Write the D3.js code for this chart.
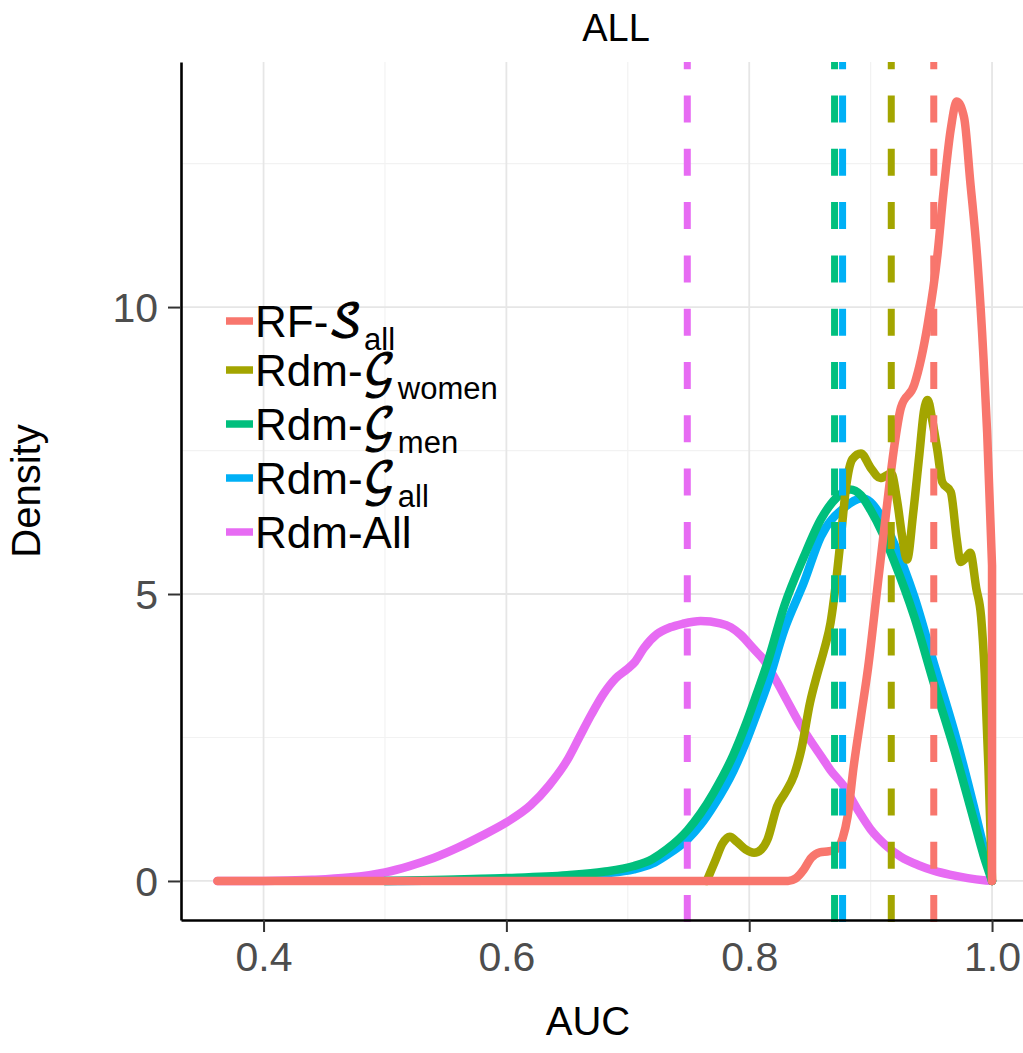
<html>
<head>
    <script src="https://d3js.org/d3.v7.min.js"></script>
    <style type="text/css">
        body { margin: 0; background: #fff; }
        svg { display: block; }
        text { font-family: "Liberation Sans", Arial, sans-serif; }
    </style>
</head>
<body>
<script type="text/javascript">
    // density curves: [AUC, density]
    var rfAll = [[0.362,0],[0.5,0],[0.7,0],[0.832,0],[0.838,0.04],[0.845,0.2],[0.851,0.4],[0.858,0.5],
        [0.866,0.52],[0.872,0.56],[0.877,0.75],[0.881,1.12],[0.886,1.99],[0.892,2.86],[0.898,3.73],
        [0.906,5.19],[0.914,6.64],[0.919,7.5],[0.925,8.25],[0.936,8.65],[0.947,9.7],[0.955,10.9],
        [0.960,12.0],[0.966,13.1],[0.971,13.58],[0.977,13.3],[0.982,12.2],[0.988,10.8],[0.993,9.1],
        [0.996,7.8],[1.0,5.5],[1.0,0]];
    var rdmWomen = [[0.765,0],[0.772,0.35],[0.778,0.65],[0.784,0.77],[0.79,0.68],[0.797,0.55],
        [0.804,0.49],[0.81,0.55],[0.815,0.72],[0.823,1.3],[0.83,1.55],[0.837,1.85],[0.843,2.3],
        [0.85,3.1],[0.856,3.6],[0.862,4.05],[0.867,4.5],[0.872,5.3],[0.876,6.1],[0.88,6.9],
        [0.885,7.35],[0.892,7.45],[0.9,7.2],[0.908,7.02],[0.917,7.1],[0.922,6.6],[0.926,6.0],
        [0.93,5.6],[0.935,6.4],[0.94,7.4],[0.944,8.2],[0.947,8.38],[0.951,8.0],[0.955,7.5],
        [0.959,6.95],[0.966,6.78],[0.971,5.94],[0.974,5.56],[0.978,5.62],[0.982,5.72],[0.987,5.1],
        [0.991,4.6],[0.994,3.6],[0.997,2.0],[1.0,0]];
    var rdmMen = [[0.5,0],[0.55,0.02],[0.6,0.05],[0.65,0.1],[0.68,0.16],[0.705,0.26],[0.72,0.38],
        [0.732,0.55],[0.749,0.88],[0.76,1.18],[0.771,1.55],[0.787,2.2],[0.797,2.72],[0.806,3.25],
        [0.815,3.8],[0.829,4.8],[0.845,5.65],[0.859,6.3],[0.872,6.68],[0.883,6.82],[0.892,6.72],
        [0.9,6.46],[0.91,6.05],[0.919,5.59],[0.936,4.6],[0.952,3.45],[0.969,2.28],[0.985,1.06],
        [0.993,0.45],[1.0,0]];
    var rdmAllG = [[0.5,0],[0.55,0.01],[0.6,0.04],[0.65,0.08],[0.68,0.13],[0.705,0.2],[0.72,0.3],
        [0.732,0.45],[0.749,0.72],[0.76,0.98],[0.771,1.32],[0.787,1.92],[0.797,2.4],[0.806,2.9],
        [0.815,3.42],[0.829,4.38],[0.845,5.2],[0.859,6.0],[0.878,6.5],[0.893,6.67],[0.9,6.6],
        [0.91,6.3],[0.919,5.9],[0.936,4.95],[0.952,3.8],[0.969,2.6],[0.985,1.3],[0.993,0.6],
        [1.0,0]];
    var rdmAll = [[0.362,0],[0.40,0],[0.44,0.02],[0.47,0.06],[0.50,0.15],[0.52,0.26],[0.54,0.4],
        [0.56,0.58],[0.58,0.79],[0.60,1.02],[0.62,1.32],[0.635,1.66],[0.65,2.1],[0.66,2.5],
        [0.67,2.9],[0.68,3.26],[0.69,3.53],[0.70,3.7],[0.706,3.82],[0.713,4.05],[0.724,4.3],
        [0.735,4.42],[0.745,4.48],[0.76,4.53],[0.776,4.49],[0.785,4.42],[0.793,4.29],[0.803,4.06],
        [0.812,3.85],[0.822,3.5],[0.831,3.15],[0.84,2.8],[0.85,2.46],[0.86,2.15],[0.867,1.93],
        [0.878,1.65],[0.89,1.22],[0.90,0.9],[0.912,0.63],[0.925,0.42],[0.94,0.27],[0.952,0.18],
        [0.965,0.11],[0.98,0.05],[0.995,0.01],[1.0,0]];

    // mean AUC of each group (dashed lines)
    var means = [0.952, 0.917, 0.8703, 0.8769, 0.749];

    var seriesKeys = ["RF-S_all", "Rdm-G_women", "Rdm-G_men", "Rdm-G_all", "Rdm-All"];
    var labelPre = ["RF-", "Rdm-", "Rdm-", "Rdm-", "Rdm-All"];
    var labelScript = ["\uD835\uDCAE", "\uD835\uDCA2", "\uD835\uDCA2", "\uD835\uDCA2", ""];
    var labelSub = ["all", "women", "men", "all", ""];
    var colors = ["#F8766D", "#A3A500", "#00BF7D", "#00B0F6", "#E76BF3"];
    var curves = [rfAll, rdmWomen, rdmMen, rdmAllG, rdmAll];

    var xTicks = [0.4, 0.6, 0.8, 1.0];
    var xMinor = [0.5, 0.7, 0.9];
    var yTicks = [0, 5, 10];
    var yMinor = [2.5, 7.5, 12.5];

    var W = 1023, H = 1053;
    var panel = {left: 181, right: 1023, top: 62, bottom: 920};

    var svg = d3.select("body").append("svg").attr("width", W).attr("height", H);

    var x = d3.scaleLinear().domain([0.332, 1.0255]).range([panel.left, panel.right]);
    var y = d3.scaleLinear().domain([-0.68, 14.27]).range([panel.bottom, panel.top]);

    // grid
    var grid = svg.append("g");
    grid.selectAll(".xminor").data(xMinor).enter().append("line")
        .attr("x1", function (d) { return x(d); }).attr("x2", function (d) { return x(d); })
        .attr("y1", panel.top).attr("y2", panel.bottom)
        .attr("stroke", "#f2f2f2").attr("stroke-width", 1.2);
    grid.selectAll(".yminor").data(yMinor).enter().append("line")
        .attr("x1", panel.left).attr("x2", panel.right)
        .attr("y1", function (d) { return y(d); }).attr("y2", function (d) { return y(d); })
        .attr("stroke", "#f2f2f2").attr("stroke-width", 1.2);
    grid.selectAll(".xmajor").data(xTicks).enter().append("line")
        .attr("x1", function (d) { return x(d); }).attr("x2", function (d) { return x(d); })
        .attr("y1", panel.top).attr("y2", panel.bottom)
        .attr("stroke", "#e6e6e6").attr("stroke-width", 1.8);
    grid.selectAll(".ymajor").data(yTicks).enter().append("line")
        .attr("x1", panel.left).attr("x2", panel.right)
        .attr("y1", function (d) { return y(d); }).attr("y2", function (d) { return y(d); })
        .attr("stroke", "#e6e6e6").attr("stroke-width", 1.8);

    // density curves, drawn last-to-first so the red one sits on top
    var line = d3.line()
        .x(function (d) { return x(d[0]); })
        .y(function (d) { return y(d[1]); })
        .curve(d3.curveMonotoneX);

    // monotone curve, plus a straight drop where the last points share an x
    function curvePath(pts) {
        var n = pts.length;
        while (n > 1 && pts[n - 1][0] === pts[n - 2][0]) n--;
        var p = line(pts.slice(0, n));
        pts.slice(n).forEach(function (d) { p += "L" + x(d[0]) + "," + y(d[1]); });
        return p;
    }

    var order = [4, 3, 2, 1, 0];
    svg.append("g").selectAll("path").data(order).enter().append("path")
        .attr("d", function (i) { return curvePath(curves[i]); })
        .attr("fill", "none")
        .attr("stroke", function (i) { return colors[i]; })
        .attr("stroke-width", 8.5)
        .attr("stroke-linejoin", "round")
        .attr("stroke-linecap", "round");

    // mean lines
    svg.append("g").selectAll("line").data(order).enter().append("line")
        .attr("x1", function (i) { return x(means[i]); })
        .attr("x2", function (i) { return x(means[i]); })
        .attr("y1", panel.bottom + 2).attr("y2", panel.top)
        .attr("stroke", function (i) { return colors[i]; })
        .attr("stroke-width", 7)
        .attr("stroke-dasharray", "27,26.3");

    // axes
    var xAxis = d3.axisBottom(x).tickValues(xTicks).tickFormat(d3.format(".1f"))
        .tickSize(12).tickSizeOuter(0).tickPadding(10);
    var yAxis = d3.axisLeft(y).tickValues(yTicks).tickFormat(d3.format("d"))
        .tickSize(13).tickSizeOuter(0).tickPadding(10);

    var gx = svg.append("g").attr("transform", "translate(0," + panel.bottom + ")").call(xAxis);
    var gy = svg.append("g").attr("transform", "translate(" + panel.left + ",0)").call(yAxis);
    [gx, gy].forEach(function (g) {
        g.select(".domain").attr("stroke", "#000").attr("stroke-width", 2.6);
        g.selectAll(".tick line").attr("stroke", "#333").attr("stroke-width", 2);
        g.selectAll(".tick text").attr("fill", "#4d4d4d")
            .style("font-family", "'Liberation Sans', Arial, sans-serif").style("font-size", "41px");
    });
    gy.selectAll(".tick text").attr("dy", "0.36em");

    // titles
    svg.append("text").attr("x", 616).attr("y", 41).attr("text-anchor", "middle")
        .style("font-size", "38px").text("ALL");
    svg.append("text").attr("x", 588).attr("y", 1035).attr("text-anchor", "middle")
        .style("font-size", "40px").text("AUC");
    svg.append("text").attr("transform", "translate(40," + ((panel.top + panel.bottom) / 2) + ") rotate(-90)")
        .attr("text-anchor", "middle").style("font-size", "40px").text("Density");

    // legend
    var legend = svg.append("g");
    seriesKeys.forEach(function (k, i) {
        var cy = i === 0 ? 321 : 316 + i * 54;
        legend.append("line")
            .attr("x1", 226).attr("x2", 253).attr("y1", cy).attr("y2", cy)
            .attr("stroke", colors[i]).attr("stroke-width", 7.5);
        var t = legend.append("text").attr("x", 255).attr("y", cy + 15.5)
            .style("font-size", "44px").attr("fill", "#000");
        t.append("tspan").text(labelPre[i]);
        if (labelScript[i]) {
            t.append("tspan")
                .style("font-family", "'DejaVu Math TeX Gyre', 'Latin Modern Math', 'STIX Two Math', serif")
                .attr("stroke", "#000").attr("stroke-width", 1)
                .text(labelScript[i]);
        }
        if (labelSub[i]) {
            t.append("tspan").attr("dx", 2).attr("dy", 13).style("font-size", "31px").text(labelSub[i]);
        }
    });
</script>
</body>
</html>
